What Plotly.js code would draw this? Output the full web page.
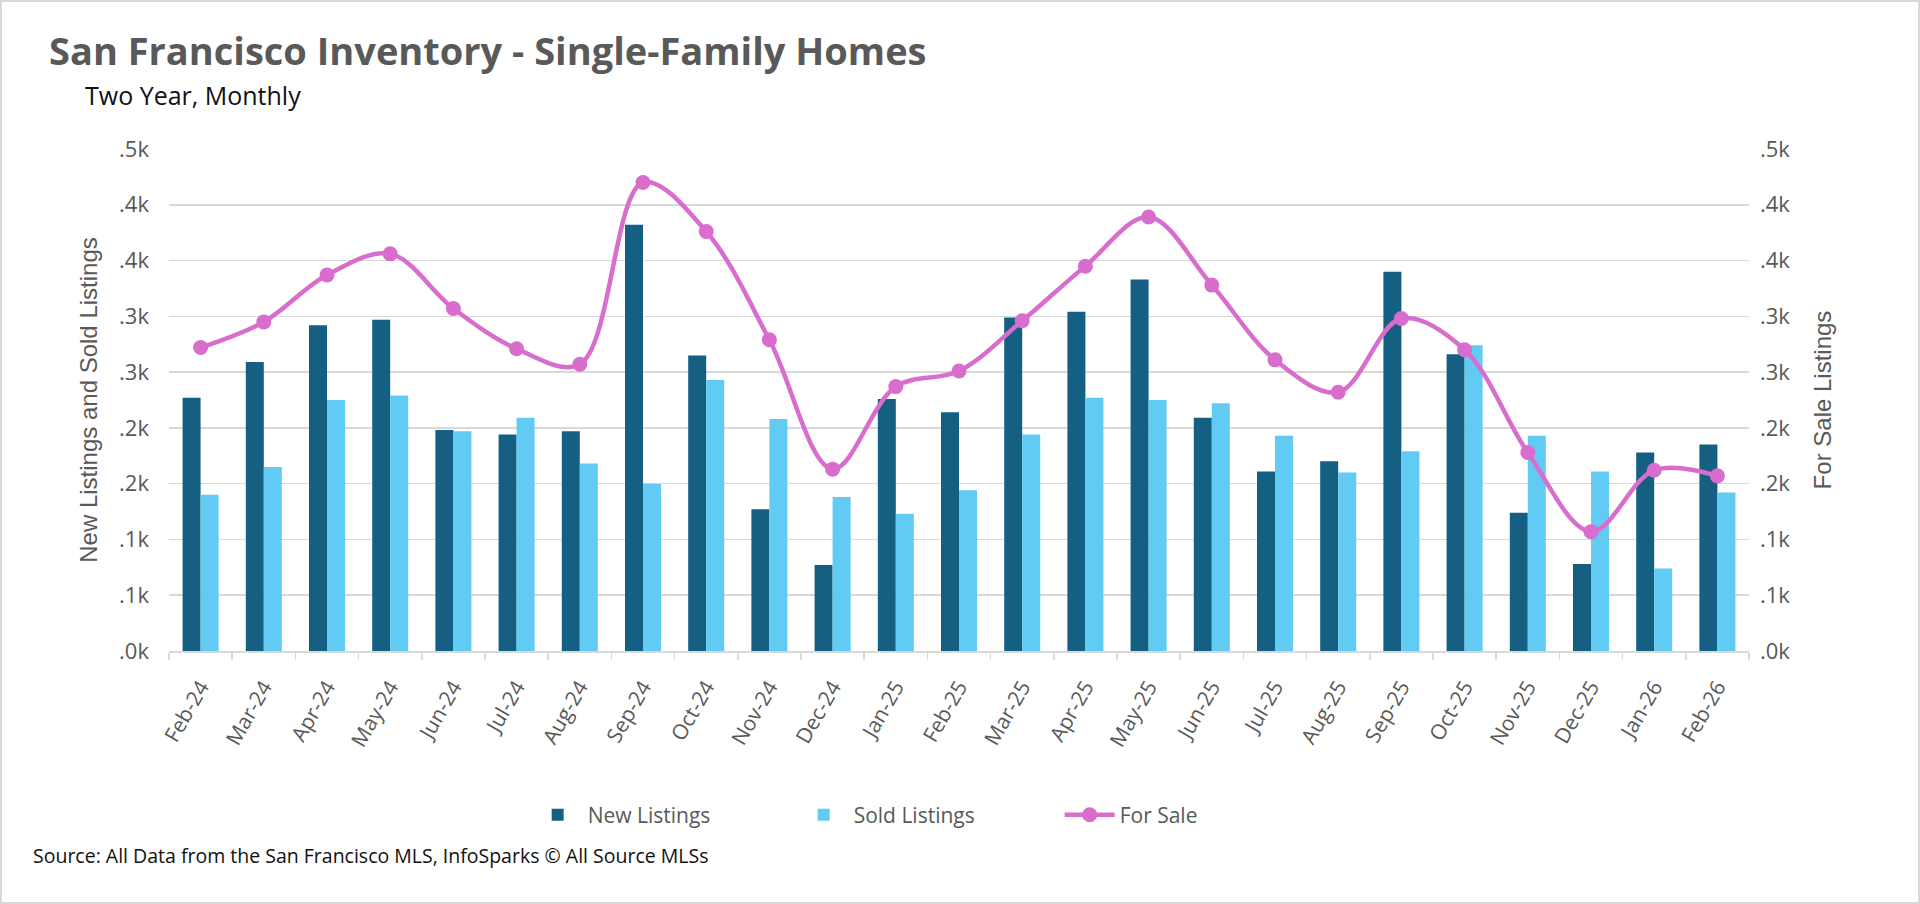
<!DOCTYPE html>
<html>
<head>
<meta charset="utf-8">
<script src="https://cdn.plot.ly/plotly-3.0.1.min.js"></script>
<style>
  html, body { margin: 0; padding: 0; background: #ffffff; }
  #frame { width: 1916px; height: 900px; border: 2px solid #d9d9d9; overflow: hidden; }
  #chart { width: 1916px; height: 900px; }
</style>
</head>
<body>
<div id="frame"><div id="chart"></div></div>
<script>
// ---- data ----
const months = ["Feb-24","Mar-24","Apr-24","May-24","Jun-24","Jul-24","Aug-24","Sep-24","Oct-24","Nov-24","Dec-24","Jan-25","Feb-25","Mar-25","Apr-25","May-25","Jun-25","Jul-25","Aug-25","Sep-25","Oct-25","Nov-25","Dec-25","Jan-26","Feb-26"];
const newListings  = [227, 259, 292, 297, 198, 194, 197, 382, 265, 127, 77, 226, 214, 299, 304, 333, 209, 161, 170, 340, 266, 124, 78, 178, 185];
const soldListings = [140, 165, 225, 229, 197, 209, 168, 150, 243, 208, 138, 123, 144, 194, 227, 225, 222, 193, 160, 179, 274, 193, 161, 74, 142];
const forSale      = [272, 295, 337, 356, 307, 271, 257, 420, 376, 279, 163, 237, 251, 296, 345, 389, 328, 261, 232, 298, 270, 178, 107, 162, 157];
const yTickVals  = [0, 50, 100, 150, 200, 250, 300, 350, 400, 450];
const yTickText  = [".0k", ".1k", ".1k", ".2k", ".2k", ".3k", ".3k", ".4k", ".4k", ".5k"];

const W = 1916, H = 900;
const grey = "#595959";
const tickFont = {family: "Open Sans, Liberation Sans, sans-serif", size: 22, color: grey};
const xTickFont = {family: "Open Sans, Liberation Sans, sans-serif", size: 21, color: grey};
const axTitleFont = {family: "Liberation Sans, Arial, sans-serif", size: 24, color: grey};

const traces = [
  {type: "bar", name: "New Listings", x: months, y: newListings,
   marker: {color: "#156082"}, yaxis: "y"},
  {type: "bar", name: "Sold Listings", x: months, y: soldListings,
   marker: {color: "#61CBF3"}, yaxis: "y"},
  {type: "scatter", mode: "lines+markers", name: "For Sale", x: months, y: forSale,
   line: {color: "#D86DCD", width: 4.5, shape: "spline", smoothing: 1},
   marker: {color: "#D86DCD", size: 15}, yaxis: "y2"}
];

const layout = {
  width: W, height: H,
  paper_bgcolor: "#ffffff", plot_bgcolor: "#ffffff",
  margin: {l: 167, r: 169, t: 147, b: 251, pad: 0},
  barmode: "group", bargap: 0.43, bargroupgap: 0,
  showlegend: true,
  legend: {orientation: "h", x: 0.227, xanchor: "left", y: -0.327, yanchor: "middle",
           entrywidth: 201, entrywidthmode: "pixels", itemwidth: 50,
           font: {family: "Open Sans, Liberation Sans, sans-serif", size: 21, color: grey},
           traceorder: "normal"},
  title: {text: "San Francisco Inventory - Single-Family Homes",
          font: {family: "Open Sans, Liberation Sans, sans-serif", size: 38, color: grey, weight: 700},
          xref: "container", x: 47/W, xanchor: "left",
          yref: "container", y: 1 - 50/H, yanchor: "middle"},
  xaxis: {type: "category", range: [-0.5, months.length - 0.5], tickangle: -60, tickfont: xTickFont,
          showline: true, linecolor: "#d9d9d9", linewidth: 1.5,
          ticks: "outside", tickson: "boundaries", ticklen: 7, tickcolor: "#d9d9d9", tickwidth: 1.5,
          ticklabelstandoff: 14,
          showgrid: false, zeroline: false, automargin: false},
  yaxis: {range: [0, 450], tickvals: yTickVals, ticktext: yTickText, tickfont: tickFont,
          showgrid: true, gridcolor: "#d9d9d9", gridwidth: 1.5, zeroline: false,
          ticks: "", ticklabelstandoff: 19, automargin: false,
          title: {text: "New Listings and Sold Listings", font: axTitleFont, standoff: 14}},
  yaxis2: {range: [0, 450], tickvals: yTickVals, ticktext: yTickText, tickfont: tickFont,
           overlaying: "y", side: "right", showgrid: false, zeroline: false,
           ticks: "", ticklabelstandoff: 10, automargin: false,
           title: {text: "For Sale Listings", font: axTitleFont, standoff: 24}},
  annotations: [
    {text: "Two Year, Monthly", xref: "paper", yref: "paper",
     x: (81 - 167) / (W - 167 - 169), y: (651 - 95) / (H - 147 - 251) , xanchor: "left", yanchor: "middle",
     showarrow: false, font: {family: "Open Sans, Liberation Sans, sans-serif", size: 25, color: "#111111"}},
    {text: "Source: All Data from the San Francisco MLS, InfoSparks © All Source MLSs", xref: "paper", yref: "paper",
     x: (29 - 167) / (W - 167 - 169), y: (651 - 855) / (H - 147 - 251), xanchor: "left", yanchor: "middle",
     showarrow: false, font: {family: "Open Sans, Liberation Sans, sans-serif", size: 19.5, color: "#111111"}}
  ]
};

Plotly.newPlot("chart", traces, layout, {displayModeBar: false, staticPlot: true});
</script>
</body>
</html>
